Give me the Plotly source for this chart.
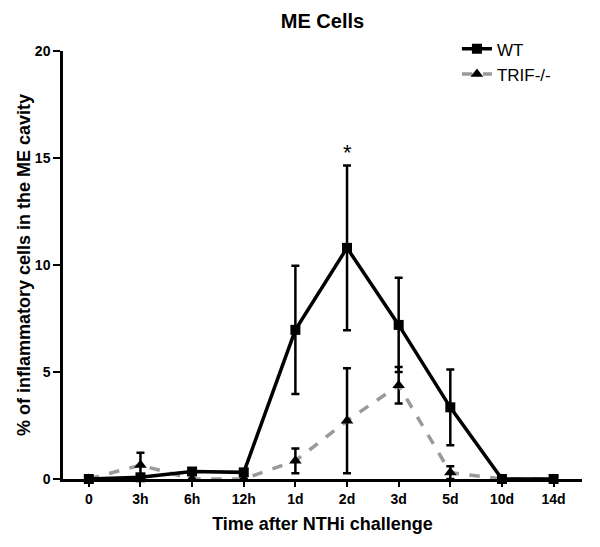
import plotly.graph_objects as go

categories = ["0", "3h", "6h", "12h", "1d", "2d", "3d", "5d", "10d", "14d"]
wt_values = [0.0, 0.08, 0.35, 0.31, 6.97, 10.8, 7.2, 3.35, 0.0, 0.0]
wt_errors = [0.0, 0.05, 0.05, 0.05, 3.0, 3.85, 2.2, 1.77, 0.0, 0.0]
trif_values = [0.0, 0.65, 0.0, 0.0, 0.85, 2.72, 4.38, 0.3, 0.0, 0.0]
trif_errors = [0.0, 0.58, 0.0, 0.0, 0.58, 2.45, 0.85, 0.3, 0.0, 0.0]
y_ticks = [0, 5, 10, 15, 20]

x = list(range(len(categories)))
FONT = "Liberation Sans, Arial, sans-serif"

fig = go.Figure()
fig.add_trace(go.Scatter(
    x=x, y=trif_values, name="TRIF-/-", mode="lines+markers",
    line=dict(color="#9a9a9a", width=3.5, dash="dash"),
    marker=dict(symbol="triangle-up", size=11, color="black"),
    error_y=dict(type="data", array=trif_errors, color="black", thickness=2.5, width=4),
    cliponaxis=False,
))
fig.add_trace(go.Scatter(
    x=x, y=wt_values, name="WT", mode="lines+markers",
    line=dict(color="black", width=3.5),
    marker=dict(symbol="square", size=10, color="black"),
    error_y=dict(type="data", array=wt_errors, color="black", thickness=2.5, width=4),
    cliponaxis=False,
))

fig.add_annotation(x=5, y=wt_values[5] + wt_errors[5], text="*", showarrow=False,
                   yshift=13, font=dict(family=FONT, size=22, color="black"))

fig.update_layout(
    width=600, height=547,
    margin=dict(l=63, r=18, t=51, b=68),
    plot_bgcolor="white", paper_bgcolor="white",
    title=dict(text="<b>ME Cells</b>", x=0.5, xref="paper", xanchor="center", y=0.962, yanchor="middle",
               font=dict(family=FONT, size=20, color="black")),
    font=dict(family=FONT, color="black"),
    legend=dict(x=0.759, y=1.046, xanchor="left", yanchor="top", traceorder="reversed",
                font=dict(family=FONT, size=17, color="black"), bgcolor="rgba(0,0,0,0)",
                itemwidth=30, tracegroupgap=0),
    showlegend=True,
)
fig.update_xaxes(
    tickmode="array", tickvals=x, ticktext=["<b>%s</b>" % c for c in categories],
    range=[-0.5, 9.55], showgrid=False, zeroline=False,
    showline=True, linecolor="black", linewidth=2.5,
    ticks="outside", ticklen=5, tickwidth=2, tickcolor="black",
    tickfont=dict(family=FONT, size=14, color="black"),
    title=dict(text="<b>Time after NTHi challenge</b>", font=dict(family=FONT, size=18, color="black"), standoff=12),
)
fig.update_yaxes(
    tickmode="array", tickvals=y_ticks, ticktext=["<b>%d</b>" % v for v in y_ticks],
    range=[0, 20], showgrid=False, zeroline=False,
    showline=True, linecolor="black", linewidth=2.5,
    ticks="outside", ticklen=7, tickwidth=2, tickcolor="black",
    tickfont=dict(family=FONT, size=14, color="black"),
    title=dict(text="<b>% of inflammatory cells in the ME cavity</b>", font=dict(family=FONT, size=18, color="black"), standoff=0),
)

fig.write_html("out.html", config={"displayModeBar": False},
               post_script="document.body.style.margin='0';")
